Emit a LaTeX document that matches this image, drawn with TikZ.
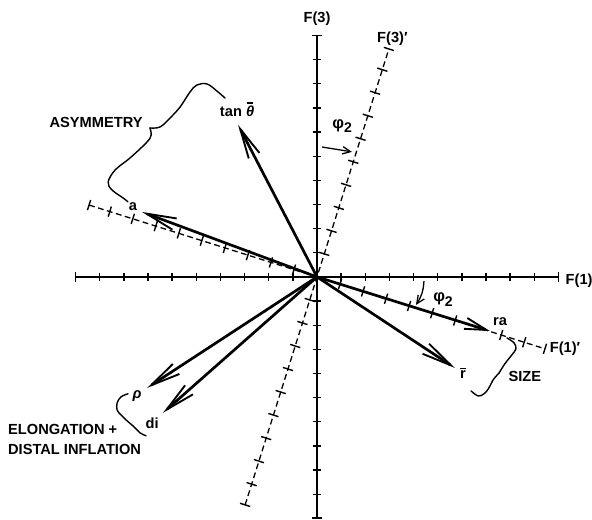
\documentclass[tikz,border=0pt]{standalone}
\usepackage{amsmath,amssymb}
\usepackage{fontspec}
\setmainfont{Liberation Sans}
\usepackage{tikz}
\usetikzlibrary{arrows.meta,positioning}
\newcommand{\ovbar}[2]{\ooalign{#1\cr\hidewidth\raisebox{#2}{\rule{0.4em}{0.09em}}\hidewidth\cr}}

\begin{document}
\begin{tikzpicture}[x=0.7245cm, y=0.7245cm,
  axis/.style={line width=1.5pt},
  rot/.style={line width=1.1pt, dash pattern=on 5pt off 3pt},
  tick/.style={line width=1.2pt},
  vec/.style={line width=2.3pt, -{Straight Barb[length=9mm, width=3.6mm, line width=1.6pt]}},
  shortvec/.style={line width=2.3pt, -{Straight Barb[length=6.5mm, width=3.4mm, line width=1.6pt]}},
  ang/.style={line width=1.1pt, -{Straight Barb[length=2.4mm, width=2.2mm]}},
  brc/.style={line width=1.2pt, line cap=round, line join=round},
  lbl/.style={font=\fontsize{12.5}{17}\selectfont\bfseries, inner sep=1pt},
  phi/.style={font=\fontsize{14}{16}\selectfont\bfseries, inner sep=1pt}
]
  \useasboundingbox (-13.13,-10.06) rectangle (11.39,11.47);

  % original axes
  \coordinate (O) at (0,0);
  \coordinate (F1end) at (10,0);
  \coordinate (F3top) at (0,10);
  \draw[axis] (-10,0) -- (F1end);
  \draw[axis] (0,-10) -- (F3top);
  \foreach \i in {-9,...,-1,1,2,...,9} {
    \draw[tick] (\i,-0.17) -- (\i,0.17);
    \draw[tick] (-0.17,\i) -- (0.17,\i);
  }
  \foreach \i in {-10,10} {
    \draw[axis] (\i,-0.22) -- (\i,0.22);
    \draw[axis] (-0.22,\i) -- (0.22,\i);
  }

  % rotated axes
  \begin{scope}[rotate=-17.5]
    \coordinate (F1pend) at (9.9,0);
    \coordinate (F3ptop) at (0,9.9);
    \draw[rot] (-9.9,0) -- (F1pend);
    \draw[rot] (0,-9.9) -- (F3ptop);
    \foreach \i in {-9,...,-1,1,2,...,6,8,9} {
      \draw[tick] (\i,-0.22) -- (\i,0.22);
    }
    \foreach \i in {-9,...,-1,1,2,...,9} {
      \draw[tick] (-0.22,\i) -- (0.22,\i);
    }
    \foreach \i in {-9.9,9.9} {
      \draw[tick] (\i,-0.22) -- (\i,0.22);
      \draw[tick] (-0.22,\i) -- (0.22,\i);
    }
  \end{scope}

  \node[lbl, above=7pt of F3top] (f3) {F(3)};
  \node[lbl, above=2pt of F3ptop, xshift=3pt] (f3p) {F(3)′};
  \node[lbl, right=5pt of F1end, yshift=-3pt] (f1) {F(1)};
  \node[lbl, right=3pt of F1pend] (f1p) {F(1)′};

  % vectors
  \coordinate (tanTip) at (-3.27,6.30);
  \coordinate (aTip) at (-7.25,2.69);
  \coordinate (raTip) at (7.16,-2.24);
  \coordinate (rTip) at (5.71,-3.77);
  \coordinate (rhoTip) at (-7.04,-4.60);
  \coordinate (diTip) at (-6.38,-5.63);
  \foreach \t in {tanTip,aTip,rTip,rhoTip,diTip} { \draw[vec] (O) -- (\t); }
  \draw[shortvec] (O) -- (raTip);

  \node[lbl] (tan) at (-3.31,6.88) {tan {\itshape\ovbar{θ}{0.84em}}};
  \node[lbl] (a) at (-7.62,2.90) {a};
  \node[lbl] (ra) at (7.58,-1.86) {ra};
  \node[lbl] (r) at (6.05,-4.06) {\ovbar{r}{0.66em}};
  \node[lbl] (rho) at (-7.45,-4.95) {\itshape ρ};
  \node[lbl] (di) at (-6.83,-6.05) {di};

  % rotation angle
  \coordinate (p1s) at (0.21,5.38);
  \coordinate (p1e) at (1.45,5.18);
  \draw[ang] (p1s) -- (p1e);
  \node[phi] (phiA) at (1.04,6.25) {φ\raisebox{-0.55ex}{\fontsize{12}{14}\selectfont 2}};
  \coordinate (p2s) at (4.43,-0.17);
  \coordinate (p2e) at (4.10,-1.16);
  \draw[ang] (p2s) to[bend left=15] (p2e);
  \node[phi] (phiB) at (5.22,-0.95) {φ\raisebox{-0.55ex}{\fontsize{12}{14}\selectfont 2}};

  % braces
  \draw[brc] plot[smooth, tension=0.6] coordinates {(-3.81,7.41) (-4.10,7.66) (-4.55,7.99)
    (-4.97,7.95) (-5.26,7.66) (-5.67,7.04) (-6.09,6.58) (-6.50,6.21) (-6.92,6.17)};
  \draw[brc] plot[smooth, tension=0.6] coordinates {(-6.92,6.17) (-6.87,5.88) (-7.04,5.59)
    (-7.74,4.93) (-8.36,4.43) (-8.65,3.93) (-8.49,3.60) (-8.03,3.27) (-7.83,3.11)};
  \node[lbl] (asym) at (-9.15,6.38) {ASYMMETRY};

  \draw[brc] plot[smooth, tension=0.6] coordinates {(7.87,-2.53) (8.16,-2.73) (8.24,-2.98)
    (8.07,-3.23) (7.78,-3.60) (7.54,-3.98)};
  \draw[brc] plot[smooth, tension=0.6] coordinates {(7.54,-3.98) (7.29,-4.27) (7.12,-4.60)
    (6.92,-4.84) (6.67,-4.93) (6.38,-4.72)};
  \node[lbl] (size) at (8.61,-4.14) {SIZE};

  \draw[brc] plot[smooth, tension=0.6] coordinates {(-7.83,-4.84) (-8.12,-4.97) (-8.28,-5.22)
    (-8.28,-5.51) (-8.16,-5.67)};
  \draw[brc] plot[smooth, tension=0.6] coordinates {(-8.16,-5.67) (-7.91,-5.92) (-7.58,-6.21)
    (-7.33,-6.46) (-7.08,-6.58)};
  \node[lbl, anchor=west, align=left] (elong) at (-12.85,-6.75) {ELONGATION +\\DISTAL INFLATION};
\end{tikzpicture}
\end{document}
